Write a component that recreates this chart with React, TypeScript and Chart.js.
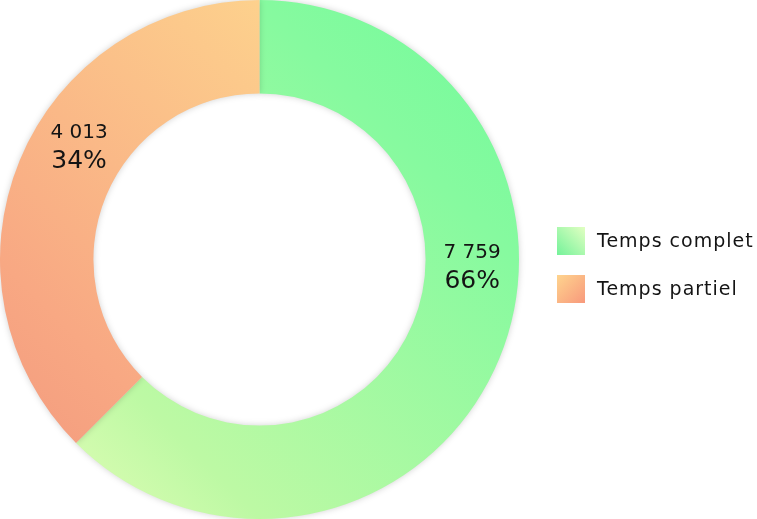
import React, { useEffect, useRef } from "react";
import { Chart, registerables } from "chart.js";

Chart.register(...registerables);

const categories = ["Temps complet", "Temps partiel"];
const counts = ["7 759", "4 013"];
const percents = ["66%", "34%"];
// arc shares as drawn in the picture
const shares = [62.5, 37.5];

const FONT = "'DejaVu Sans', sans-serif";

function diagGradient(ctx: CanvasRenderingContext2D, area: any, stops: [number, string][]) {
  const g = ctx.createLinearGradient(area.right, area.top, area.left, area.bottom);
  stops.forEach(([o, c]) => g.addColorStop(o, c));
  return g;
}

const greenStops: [number, string][] = [
  [0, "#70fb9b"],
  [0.25, "#86fa9f"],
  [0.75, "#bdf9a4"],
  [0.9, "#dafcb2"],
  [1, "#e4fdb6"],
];
const orangeStops: [number, string][] = [
  [0, "#ffdc92"],
  [0.25, "#fdd18d"],
  [0.75, "#f8a883"],
  [0.9, "#f49d7f"],
  [1, "#f2977d"],
];

const labelAngles = [92, 302];

export default function App() {
  const ref = useRef<HTMLCanvasElement>(null);
  useEffect(() => {
    const canvas = ref.current!;
    const shadowPlugin = {
      id: "shadow",
      beforeDatasetDraw(chart: any) {
        const c = chart.ctx;
        c.save();
        c.shadowColor = "rgba(0,0,0,0.18)";
        c.shadowBlur = 6;
      },
      afterDatasetDraw(chart: any) {
        chart.ctx.restore();
      },
    };
    const labelPlugin = {
      id: "labels",
      afterDatasetsDraw(chart: any) {
        const c = chart.ctx;
        const meta = chart.getDatasetMeta(0);
        meta.data.forEach((arc: any, i: number) => {
          const r = (arc.innerRadius + arc.outerRadius) / 2;
          const a = (labelAngles[i] * Math.PI) / 180;
          const x = arc.x + r * Math.sin(a);
          const y = arc.y - r * Math.cos(a);
          c.save();
          c.fillStyle = "#141414";
          c.textAlign = "center";
          c.textBaseline = "middle";
          c.font = `20px ${FONT}`;
          c.fillText(counts[i], x, y - 14);
          c.font = `25px ${FONT}`;
          c.fillText(percents[i], x, y + 15);
          c.restore();
        });
      },
    };
    const legendPlugin = {
      id: "customLegend",
      afterDraw(chart: any) {
        const c = chart.ctx;
        const x0 = chart.chartArea.right + 38;
        const yStart = 227;
        const gap = 48;
        const size = 28;
        categories.forEach((cat, i) => {
          const y = yStart + i * gap;
          let g;
          if (i === 0) {
            g = c.createLinearGradient(x0, y + size, x0 + size, y);
            g.addColorStop(0, "#74f29a");
            g.addColorStop(1, "#e2ffc2");
          } else {
            g = c.createLinearGradient(x0, y, x0 + size, y + size);
            g.addColorStop(0, "#fed48e");
            g.addColorStop(1, "#f8997c");
          }
          c.save();
          c.fillStyle = g;
          c.fillRect(x0, y, size, size);
          c.fillStyle = "#141414";
          c.font = `19px ${FONT}`;
          (c as any).letterSpacing = "1px";
          c.textBaseline = "middle";
          c.textAlign = "left";
          c.fillText(cat, x0 + 40, y + size / 2 + 1);
          c.restore();
        });
      },
    };
    const chart = new Chart(canvas, {
      type: "doughnut",
      data: {
        labels: categories,
        datasets: [
          {
            data: shares,
            backgroundColor: (ctx: any) => {
              const ch = ctx.chart;
              const area = ch.chartArea;
              if (!area) return "#ccc";
              return diagGradient(ch.ctx, area, ctx.dataIndex === 0 ? greenStops : orangeStops);
            },
            borderWidth: 0,
            hoverOffset: 0,
          },
        ],
      },
      options: {
        responsive: false,
        animation: false,
        cutout: "64%",
        layout: { padding: { left: 0, top: 0, bottom: 0, right: 238 } },
        plugins: {
          legend: { display: false },
          tooltip: { enabled: false },
        },
      },
      plugins: [shadowPlugin, labelPlugin, legendPlugin],
    });
    return () => chart.destroy();
  }, []);
  return (
    <div style={{ position: "fixed", left: 0, top: 0, width: 757, height: 519, background: "#fff" }}>
      <canvas ref={ref} width={757} height={519} />
    </div>
  );
}
